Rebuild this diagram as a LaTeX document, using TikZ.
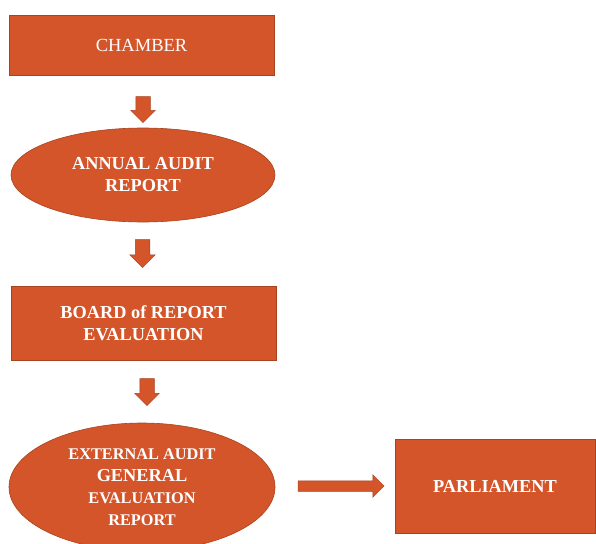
\documentclass[tikz,border=0pt]{standalone}
\usepackage{fontspec}
\setmainfont{Liberation Serif}
\usetikzlibrary{calc}
\usetikzlibrary{shapes.geometric, shapes.arrows}
\definecolor{boxfill}{HTML}{D4552A}
\definecolor{boxedge}{HTML}{A8431F}
\tikzset{
    block/.style = {
        draw=boxedge, fill=boxfill, rectangle, text=white, align=center, line width=0.6pt
    },
    oval/.style = {
        draw=boxedge, fill=boxfill, ellipse, text=white, align=center, line width=0.6pt, inner sep=0pt
    },
    bigarrow/.style = {
        single arrow, draw=boxedge, fill=boxfill, inner xsep=0pt, line width=0.5pt,
        single arrow tip angle=90
    },
    labeltext/.style = {font=\fontsize{18.3}{22}\selectfont\bfseries}
}

\begin{document}
\begin{tikzpicture}[x=1pt, y=-1pt]
        \useasboundingbox (0, 0) rectangle (596, 543);
        \clip (0, 0) rectangle (596, 543);
        % Place the blocks
        \node[block, minimum width=265pt, minimum height=60pt, font=\fontsize{18.5}{22}\selectfont] (chamber) at (141.5, 45) {CHAMBER};
        \node[oval, minimum width=264pt, minimum height=94pt, labeltext] (annual) at (143, 175) {ANNUAL AUDIT\\REPORT};
        \node[block, minimum width=265pt, minimum height=74pt, labeltext] (board) at (143.5, 323) {BOARD of REPORT\\EVALUATION};
        \node[oval, minimum width=266pt, minimum height=128pt, font=\fontsize{16.3}{22}\selectfont\bfseries] (external) at (142, 487)
            {EXTERNAL AUDIT\\{\fontsize{18.3}{22}\selectfont GENERAL}\\EVALUATION\\REPORT};
        \node[block, minimum width=200pt, minimum height=94pt, labeltext] (parliament) at (495, 486) {PARLIAMENT};

        % Place the arrows
        \node[bigarrow, rotate=-90, minimum height=26pt, inner ysep=7pt, single arrow head extend=5pt] (down1) at (143, 106) {};
        \node[bigarrow, rotate=-90, minimum height=28pt, inner ysep=7pt, single arrow head extend=5.5pt] (down2) at (142.5, 250) {};
        \node[bigarrow, rotate=-90, minimum height=27pt, inner ysep=7pt, single arrow head extend=5pt] (down3) at (147, 388.5) {};
        \node[bigarrow, minimum height=86pt, inner ysep=5pt, single arrow head extend=6pt] (right1) at (338.5, 486) {};
\end{tikzpicture}
\end{document}
